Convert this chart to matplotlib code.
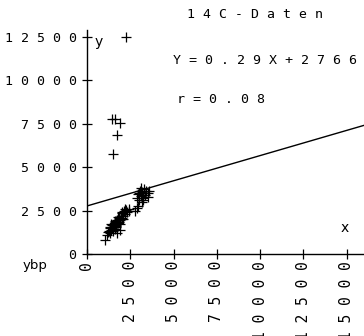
import numpy as np
import matplotlib
matplotlib.use("Agg")
import matplotlib.pyplot as plt

# 14C-Daten: calibrated age (x) against radiocarbon age ybp (y)
x_vals = [
    1030, 1150, 1200, 1250, 1300, 1350, 1400, 1450, 1500, 1550,
    1600, 1650, 1700, 1750, 1800, 1850, 1900, 1950, 2000, 2050,
    2100, 2150, 2200, 2250, 2300, 2400, 2450, 1400, 1600, 1800,
    2000, 1500, 1700, 1900, 2100, 1720, 1900, 1300, 2200, 1650,
    1850, 2050,
    2870, 2800, 2950,
    2870, 2950, 3000, 3050, 3100, 3150, 3200, 3250, 3300, 3350,
    3400, 3500, 3550, 3100, 3250, 3600, 3000, 3200,
    2280, 1420, 1610, 1900, 1710, 1480,
]
y_vals = [
    800, 1100, 1250, 1350, 1200, 1500, 1400, 1650, 1550, 1750,
    1450, 1850, 1650, 1950, 1800, 2100, 1950, 2200, 2050, 2350,
    2200, 2450, 2300, 2550, 2400, 2600, 2500, 1700, 1900, 2150,
    2400, 1350, 1550, 1750, 2000, 1200, 1380, 1550, 2600, 1600,
    1850, 2000,
    2640, 2500, 2750,
    3200, 3450, 3100, 3650, 3350, 3000, 3550, 3250, 3750, 3400,
    3600, 3300, 3500, 3800, 3100, 3650, 3500, 3400,
    12490, 7800, 7760, 7530, 6840, 5750,
]

slope = 0.29
intercept = 2766
r_value = 0.08

x_ticks = [0, 2500, 5000, 7500, 10000, 12500, 15000]
y_ticks = [0, 2500, 5000, 7500, 10000, 12500]


def spaced(s):
    # plotter-style lettering: one blank between characters
    return " ".join(str(s))


mono = "DejaVu Sans Mono"

fig = plt.figure(figsize=(3.64, 3.36), dpi=100)
ax = fig.add_axes([0.239, 0.244, 0.761, 0.667])

ax.plot(x_vals, y_vals, "+", color="black", markersize=7, markeredgewidth=0.9)

xs = np.array([0, 16000])
ax.plot(xs, slope * xs + intercept, color="black", linewidth=1.0)

ax.set_xlim(0, 16000)
ax.set_ylim(0, 12900)

for side in ["top", "right"]:
    ax.spines[side].set_visible(False)
for side in ["left", "bottom"]:
    ax.spines[side].set_linewidth(1.0)

ax.set_xticks(x_ticks)
ax.set_yticks(y_ticks)
ax.set_yticklabels([spaced(v) for v in y_ticks], fontfamily=mono, fontsize=9.5)
ax.set_xticklabels([spaced(v) for v in x_ticks], fontfamily=mono, fontsize=10.5,
                   rotation=90)
ax.tick_params(axis="both", direction="inout", length=7, width=0.9, colors="black")
ax.tick_params(axis="y", pad=4)
ax.tick_params(axis="x", pad=1.5)

# axis names
fig.text(95 / 364, 1 - 42 / 336, "y", fontsize=10, ha="left", va="center")
fig.text(345 / 364, 1 - 228 / 336, "x", fontsize=10, ha="center", va="center")
fig.text(35 / 364, 1 - 265 / 336, "ybp", fontsize=9.5, ha="center", va="center")

# title and regression results
fig.text(187 / 364, 1 - 15 / 336, spaced("14C-Daten"), fontfamily=mono,
         fontsize=9.5, ha="left", va="center")
fig.text(173 / 364, 1 - 61 / 336, spaced(f"Y={slope}X+{intercept}"),
         fontfamily=mono, fontsize=9.5, ha="left", va="center")
fig.text(177 / 364, 1 - 99 / 336, spaced(f"r={r_value:.2f}"), fontfamily=mono,
         fontsize=9.5, ha="left", va="center")

fig.savefig("out.png", dpi=100)
